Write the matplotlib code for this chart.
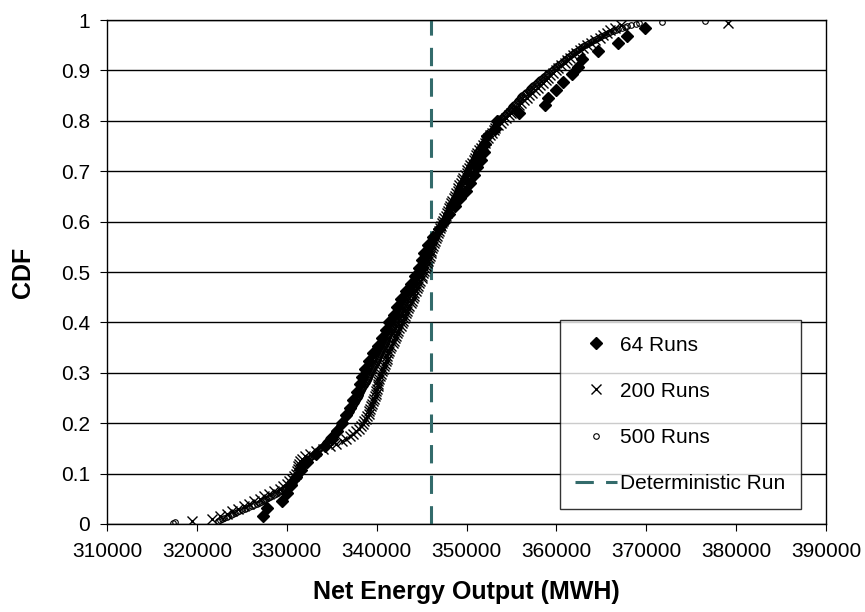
import matplotlib
matplotlib.use('Agg')
import matplotlib.pyplot as plt
import numpy as np

plt.rcParams['font.family'] = ['Liberation Sans', 'DejaVu Sans']

# sorted net energy outputs, in thousands of MWH
runs_64 = [
    327.3, 327.8, 329.5, 330.0, 330.5, 331.0, 331.6, 332.3, 333.2, 334.2,
    335.0, 335.6, 336.1, 336.6, 337.0, 337.4, 337.8, 338.1, 338.4, 338.7,
    339.1, 339.6, 340.1, 340.6, 341.0, 341.4, 341.9, 342.3, 342.7, 343.3,
    343.8, 344.3, 344.7, 345.0, 345.3, 345.7, 346.3, 346.9, 347.5, 348.1,
    348.7, 349.3, 349.9, 350.4, 350.8, 351.2, 351.6, 351.9, 352.1, 352.3,
    353.2, 353.4, 355.8, 358.7, 359.1, 359.9, 360.7, 361.7, 362.4, 362.9,
    364.6, 366.8, 367.8, 369.8,
]

runs_200 = [
    319.5, 321.7, 322.6, 323.3, 323.9, 324.6, 325.2, 325.8, 326.4, 327.0,
    327.5, 328.0, 328.6, 329.2, 329.6, 330.0, 330.3, 330.6, 330.8, 331.0,
    331.1, 331.2, 331.3, 331.4, 331.5, 331.7, 332.0, 332.6, 333.3, 334.0,
    334.8, 335.5, 336.1, 336.6, 337.0, 337.4, 337.7, 338.0, 338.3, 338.5,
    338.6, 338.8, 338.9, 339.1, 339.2, 339.3, 339.4, 339.5, 339.6, 339.7,
    339.8, 339.9, 339.9, 340.0, 340.1, 340.2, 340.2, 340.3, 340.4, 340.5,
    340.6, 340.7, 340.8, 340.9, 341.0, 341.1, 341.2, 341.3, 341.4, 341.5,
    341.6, 341.8, 341.9, 342.0, 342.2, 342.3, 342.4, 342.5, 342.7, 342.8,
    342.9, 343.0, 343.2, 343.3, 343.4, 343.5, 343.6, 343.8, 343.9, 344.0,
    344.1, 344.2, 344.4, 344.5, 344.6, 344.7, 344.8, 345.0, 345.1, 345.2,
    345.3, 345.4, 345.5, 345.6, 345.7, 345.8, 345.9, 346.0, 346.1, 346.2,
    346.3, 346.4, 346.5, 346.6, 346.7, 346.8, 346.9, 347.0, 347.2, 347.3,
    347.4, 347.5, 347.7, 347.8, 347.9, 348.0, 348.2, 348.3, 348.4, 348.6,
    348.7, 348.8, 349.0, 349.1, 349.2, 349.4, 349.5, 349.6, 349.8, 350.0,
    350.1, 350.3, 350.4, 350.6, 350.8, 350.9, 351.1, 351.2, 351.4, 351.6,
    351.8, 352.0, 352.2, 352.4, 352.6, 352.8, 353.0, 353.2, 353.5, 353.8,
    354.1, 354.4, 354.7, 355.0, 355.3, 355.5, 355.8, 356.1, 356.4, 356.7,
    357.0, 357.3, 357.6, 357.9, 358.2, 358.5, 358.8, 359.1, 359.3, 359.6,
    359.9, 360.2, 360.5, 360.9, 361.2, 361.5, 361.8, 362.2, 362.6, 363.0,
    363.4, 363.8, 364.3, 364.8, 365.2, 365.6, 366.0, 366.5, 367.2, 379.1,
]

runs_500 = [
    317.3, 317.6, 322.3, 322.6, 322.8, 323.0, 323.3, 323.5, 323.8, 324.0,
    324.2, 324.5, 324.7, 325.0, 325.3, 325.5, 325.8, 326.1, 326.4, 326.7,
    326.9, 327.1, 327.3, 327.5, 327.7, 327.9, 328.1, 328.3, 328.6, 328.8,
    328.9, 329.1, 329.2, 329.4, 329.6, 329.7, 329.8, 330.0, 330.1, 330.2,
    330.3, 330.4, 330.5, 330.6, 330.7, 330.8, 330.9, 331.0, 331.1, 331.2,
    331.3, 331.4, 331.4, 331.5, 331.6, 331.7, 331.8, 331.8, 331.9, 332.0,
    332.1, 332.2, 332.3, 332.4, 332.5, 332.6, 332.7, 332.8, 332.9, 333.0,
    333.1, 333.2, 333.4, 333.5, 333.6, 333.7, 333.8, 334.0, 334.1, 334.2,
    334.3, 334.4, 334.5, 334.6, 334.7, 334.8, 334.9, 335.0, 335.1, 335.2,
    335.3, 335.4, 335.5, 335.6, 335.7, 335.8, 335.8, 335.9, 336.0, 336.1,
    336.2, 336.3, 336.4, 336.4, 336.5, 336.6, 336.7, 336.8, 336.8, 336.9,
    337.0, 337.1, 337.1, 337.2, 337.3, 337.3, 337.4, 337.5, 337.5, 337.6,
    337.7, 337.7, 337.8, 337.8, 337.9, 338.0, 338.0, 338.1, 338.1, 338.2,
    338.3, 338.3, 338.4, 338.4, 338.5, 338.5, 338.6, 338.7, 338.7, 338.8,
    338.9, 338.9, 339.0, 339.0, 339.1, 339.1, 339.2, 339.3, 339.3, 339.4,
    339.4, 339.5, 339.5, 339.6, 339.6, 339.7, 339.7, 339.8, 339.8, 339.9,
    340.0, 340.0, 340.1, 340.1, 340.2, 340.3, 340.3, 340.4, 340.4, 340.5,
    340.5, 340.6, 340.6, 340.7, 340.7, 340.8, 340.8, 340.9, 340.9, 341.0,
    341.0, 341.1, 341.1, 341.2, 341.2, 341.3, 341.3, 341.4, 341.4, 341.5,
    341.6, 341.6, 341.7, 341.7, 341.8, 341.8, 341.9, 342.0, 342.0, 342.1,
    342.1, 342.2, 342.2, 342.3, 342.3, 342.4, 342.4, 342.5, 342.5, 342.6,
    342.6, 342.7, 342.7, 342.8, 342.8, 342.9, 342.9, 343.0, 343.0, 343.1,
    343.1, 343.2, 343.2, 343.3, 343.3, 343.4, 343.4, 343.5, 343.5, 343.6,
    343.6, 343.7, 343.7, 343.8, 343.8, 343.9, 343.9, 344.0, 344.0, 344.1,
    344.2, 344.2, 344.3, 344.3, 344.4, 344.4, 344.5, 344.6, 344.6, 344.7,
    344.7, 344.8, 344.8, 344.9, 344.9, 345.0, 345.0, 345.1, 345.1, 345.2,
    345.2, 345.3, 345.3, 345.4, 345.4, 345.5, 345.5, 345.6, 345.6, 345.7,
    345.7, 345.8, 345.8, 345.9, 345.9, 346.0, 346.0, 346.1, 346.1, 346.2,
    346.3, 346.3, 346.4, 346.4, 346.5, 346.5, 346.6, 346.7, 346.7, 346.8,
    346.9, 346.9, 347.0, 347.0, 347.1, 347.1, 347.2, 347.3, 347.3, 347.4,
    347.4, 347.5, 347.5, 347.6, 347.6, 347.7, 347.7, 347.8, 347.8, 347.9,
    347.9, 348.0, 348.0, 348.1, 348.1, 348.2, 348.2, 348.3, 348.3, 348.4,
    348.5, 348.5, 348.6, 348.6, 348.7, 348.7, 348.8, 348.9, 348.9, 349.0,
    349.0, 349.1, 349.1, 349.2, 349.2, 349.3, 349.3, 349.4, 349.4, 349.5,
    349.6, 349.6, 349.7, 349.7, 349.8, 349.8, 349.9, 350.0, 350.0, 350.1,
    350.1, 350.2, 350.2, 350.3, 350.3, 350.4, 350.4, 350.5, 350.5, 350.6,
    350.7, 350.7, 350.8, 350.8, 350.9, 350.9, 351.0, 351.1, 351.1, 351.2,
    351.3, 351.3, 351.4, 351.5, 351.5, 351.6, 351.7, 351.7, 351.8, 351.9,
    352.0, 352.1, 352.1, 352.2, 352.3, 352.4, 352.4, 352.5, 352.6, 352.7,
    352.8, 352.9, 353.0, 353.0, 353.1, 353.2, 353.3, 353.4, 353.5, 353.6,
    353.7, 353.8, 353.9, 354.0, 354.0, 354.1, 354.2, 354.3, 354.4, 354.5,
    354.6, 354.7, 354.8, 354.9, 355.0, 355.1, 355.2, 355.3, 355.5, 355.6,
    355.7, 355.8, 355.9, 356.0, 356.1, 356.2, 356.4, 356.5, 356.6, 356.8,
    356.9, 357.0, 357.1, 357.2, 357.3, 357.4, 357.6, 357.7, 357.8, 358.0,
    358.1, 358.2, 358.4, 358.5, 358.6, 358.8, 358.9, 359.0, 359.2, 359.4,
    359.5, 359.6, 359.8, 359.9, 360.0, 360.2, 360.3, 360.5, 360.6, 360.8,
    360.9, 361.0, 361.2, 361.3, 361.4, 361.6, 361.7, 361.9, 362.0, 362.2,
    362.4, 362.5, 362.7, 362.9, 363.0, 363.2, 363.4, 363.6, 363.8, 364.0,
    364.2, 364.4, 364.6, 364.8, 365.0, 365.3, 365.5, 365.7, 366.0, 366.3,
    366.6, 366.9, 367.3, 367.6, 367.8, 368.3, 368.8, 369.2, 371.8, 376.5,
]

deterministic = 346.1
series_labels = ['64 Runs', '200 Runs', '500 Runs', 'Deterministic Run']
y_ticklabels = ['0', '0.1', '0.2', '0.3', '0.4', '0.5', '0.6', '0.7', '0.8', '0.9', '1']


def cdf(vals):
    x = np.sort(np.array(vals)) * 1000
    y = np.arange(1, len(x) + 1) / (len(x) + 1)
    return x, y


fig = plt.figure(figsize=(8.65, 6.12), dpi=100)
ax = fig.add_axes([0.1237, 0.1438, 0.8313, 0.8235])

x, y = cdf(runs_64)
ax.plot(x, y, linestyle='none', marker='D', markersize=6, color='black', label=series_labels[0], zorder=3)
x, y = cdf(runs_200)
ax.plot(x, y, linestyle='none', marker='x', markersize=6.5, markeredgewidth=1.0, color='black',
        label=series_labels[1], zorder=4)
x, y = cdf(runs_500)
ax.plot(x, y, linestyle='none', marker='o', markersize=4, markerfacecolor='none', markeredgewidth=0.8,
        color='black', label=series_labels[2], zorder=5)
ax.axvline(deterministic * 1000, color='#336b6b', linewidth=2.2, dashes=(6, 4), label=series_labels[3], zorder=2)

ax.set_xlim(310000, 390000)
ax.set_ylim(0, 1)
ax.set_xticks(np.arange(310000, 390001, 10000))
ax.set_yticks(np.arange(0, 1.01, 0.1))
ax.set_yticklabels(y_ticklabels)
ax.yaxis.grid(True, color='black', linewidth=1)
ax.set_axisbelow(True)
ax.tick_params(axis='both', labelsize=15, length=5, direction='out', color='black')
ax.tick_params(axis='x', pad=8)
ax.tick_params(axis='y', pad=7)
for s in ax.spines.values():
    s.set_linewidth(1)
    s.set_color('black')

ax.set_xlabel('Net Energy Output (MWH)', fontsize=18, fontweight='bold', labelpad=14)
ax.set_ylabel('CDF', fontsize=18, fontweight='bold', labelpad=19)

leg = ax.legend(loc='upper left', bbox_to_anchor=(0.647, 0.477), bbox_transform=fig.transFigure,
                fontsize=15, frameon=True, fancybox=False, edgecolor='black', labelspacing=1.3,
                handlelength=2.0, handletextpad=0.15, borderpad=0.75, borderaxespad=0)
leg.get_frame().set_linewidth(1)

fig.savefig('out.png', dpi=100)
